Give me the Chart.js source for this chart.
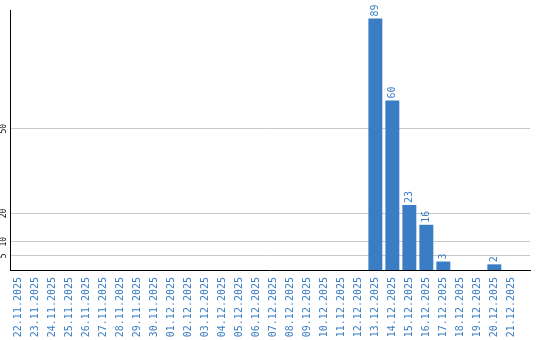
<!DOCTYPE html>
<html>
<head>
<meta charset="utf-8">
<script src="https://cdn.jsdelivr.net/npm/chart.js@4"></script>
<style>
  html, body { margin: 0; padding: 0; background: #fff; }
  #wrap { width: 540px; height: 340px; }
</style>
</head>
<body>
<div id="wrap"><canvas id="dayChart"></canvas></div>
<script>
// daily counts
const dates = [
  '22.11.2025', '23.11.2025', '24.11.2025', '25.11.2025', '26.11.2025',
  '27.11.2025', '28.11.2025', '29.11.2025', '30.11.2025', '01.12.2025',
  '02.12.2025', '03.12.2025', '04.12.2025', '05.12.2025', '06.12.2025',
  '07.12.2025', '08.12.2025', '09.12.2025', '10.12.2025', '11.12.2025',
  '12.12.2025', '13.12.2025', '14.12.2025', '15.12.2025', '16.12.2025',
  '17.12.2025', '18.12.2025', '19.12.2025', '20.12.2025', '21.12.2025'
];
const counts = [
  0, 0, 0, 0, 0, 0, 0, 0, 0, 0,
  0, 0, 0, 0, 0, 0, 0, 0, 0, 0,
  0, 89, 60, 23, 16, 3, 0, 0, 2, 0
];
const yTicks = [5, 10, 20, 50];

const blue = '#3a7dc4';

// numbers on top of the bars
const valueLabels = {
  id: 'valueLabels',
  afterDatasetsDraw(chart) {
    const ctx = chart.ctx;
    const meta = chart.getDatasetMeta(0);
    ctx.save();
    ctx.fillStyle = blue;
    ctx.font = '10px "DejaVu Sans Mono"';
    ctx.textAlign = 'left';
    ctx.textBaseline = 'middle';
    meta.data.forEach((bar, i) => {
      const v = counts[i];
      if (!v) return;
      ctx.save();
      ctx.translate(bar.x, bar.y - 2);
      ctx.rotate(-Math.PI / 2);
      ctx.fillText(String(v), 0, 0);
      ctx.restore();
    });
    ctx.restore();
  }
};

const ctx = document.getElementById('dayChart').getContext('2d');
new Chart(ctx, {
  type: 'bar',
  data: {
    datasets: [{
      data: counts.map((v, i) => ({ x: i, y: v })),
      backgroundColor: blue,
      borderWidth: 0,
      barPercentage: 0.82,
      categoryPercentage: 1
    }]
  },
  options: {
    responsive: true,
    maintainAspectRatio: false,
    animation: false,
    layout: { padding: { top: 10, right: 10, left: 0, bottom: 0 } },
    plugins: {
      legend: { display: false },
      tooltip: { enabled: false }
    },
    scales: {
      x: {
        type: 'linear',
        offset: false,
        min: -0.5,
        max: 30.1,
        grid: { display: false, offset: false, drawTicks: true, tickLength: 7 },
        border: { display: true, color: '#000', width: 1 },
        afterBuildTicks: (scale) => {
          scale.ticks = dates.map((d, i) => ({ value: i }));
        },
        afterFit: (scale) => { scale.height = 70; },
        ticks: {
          autoSkip: false,
          minRotation: 90,
          maxRotation: 90,
          padding: 0,
          color: blue,
          font: { family: '"DejaVu Sans Mono"', size: 10 },
          callback: (v) => dates[v] ?? ''
        }
      },
      y: {
        min: 0,
        max: 92,
        grid: { color: '#c8c8c8', drawTicks: false },
        border: { display: true, color: '#000', width: 1 },
        afterBuildTicks: (scale) => {
          scale.ticks = yTicks.map(v => ({ value: v }));
        },
        afterFit: (scale) => { scale.width = 10; },
        ticks: {
          minRotation: 90,
          maxRotation: 90,
          crossAlign: 'center',
          padding: 1,
          color: '#000',
          font: { family: '"DejaVu Sans Mono"', size: 8 }
        }
      }
    }
  },
  plugins: [valueLabels]
});
</script>
</body>
</html>
